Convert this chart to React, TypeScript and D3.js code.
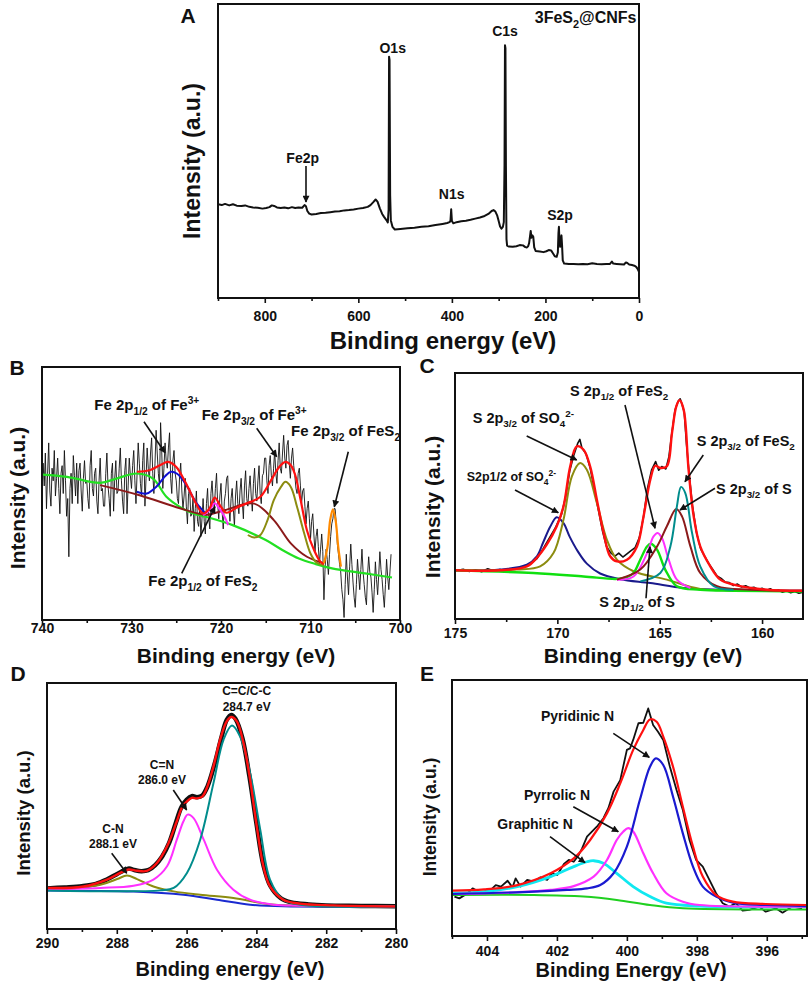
import React, { useEffect, useRef } from "react";
import * as d3 from "d3";

type Pt = [number, number];
type Seg = { t: string; sub?: boolean; sup?: boolean };

const FONT = "'Liberation Sans', Arial, Helvetica, sans-serif";

// ---------- A: survey spectrum (binding energy eV, intensity a.u.)
const surveyA: Pt[] = [
  [900, 31.9], [892, 31.6], [885, 32.0], [876, 31.5], [868, 31.9], [860, 31.4], [850, 31.3], [842, 31.5],
  [833, 31.0], [825, 30.8], [815, 30.7], [805, 30.4], [797, 30.6], [790, 30.9], [785, 31.5], [780, 31.3],
  [774, 30.8], [766, 30.6], [758, 30.8], [750, 30.5], [742, 30.9], [735, 30.6], [728, 30.8], [720, 30.7],
  [715, 31.6], [712, 31.2], [709, 29.6], [705, 28.7], [700, 28.4], [690, 28.6], [680, 28.9], [670, 29.0],
  [660, 29.2], [650, 29.4], [640, 29.5], [630, 29.8], [620, 29.9], [610, 30.1], [600, 30.4], [590, 30.6],
  [580, 31.0], [574, 31.6], [568, 32.6], [563, 33.5], [559, 32.8], [554, 30.5], [549, 28.6], [545, 27.6],
  [540, 26.5], [537, 25.7], [535.3, 30], [534.3, 82.1], [533.3, 81], [532, 35], [530.5, 26.4], [527, 24.2],
  [522, 23.3], [510, 23.5], [495, 23.7], [480, 23.9], [465, 24.2], [450, 24.4], [435, 24.8], [420, 25.2],
  [410, 25.5], [405, 25.8], [403, 26.3], [401.5, 30.2], [400, 26.2], [397, 25.4], [390, 25.8], [380, 26.1],
  [370, 26.3], [360, 26.6], [350, 27.0], [340, 27.4], [330, 27.9], [322, 28.6], [315, 29.6], [311, 29.9],
  [307, 29.4], [303, 28.0], [300, 26.2], [297, 24.3], [294, 23.6], [291, 24.2], [289, 25.8], [287.5, 45],
  [286.5, 86.0], [285.5, 85], [284.5, 45], [283.3, 20], [282, 17.8], [278, 17.5], [270, 17.4], [262, 17.6],
  [255, 18.0], [248, 17.9], [243, 17.3], [240, 17.2], [237, 17.6], [235, 18.6], [233, 21.0], [231.5, 22.8],
  [230, 20.5], [228, 21.3], [226, 20.8], [224, 17.2], [221, 16.0], [212, 15.8], [204, 15.6], [198, 15.9],
  [193, 16.3], [188, 16.2], [184, 15.2], [180, 14.2], [176, 14.0], [173.5, 15.5], [172.2, 22], [171.2, 24.2],
  [170, 19], [168.5, 17.4], [167, 19.8], [165.8, 21.3], [164.5, 18], [163, 12.8], [160, 11.7], [150, 11.6],
  [140, 11.6], [130, 11.5], [120, 11.6], [110, 11.5], [100, 11.8], [90, 11.6], [80, 11.5], [70, 11.6],
  [62, 11.6], [58, 12.4], [55, 11.7], [48, 11.6], [40, 11.5], [32, 11.4], [28, 12.1], [25, 11.9],
  [21, 11.4], [15, 11.2], [10, 11.0], [6, 10.6], [3, 9.9], [0, 8.9],
];
const surveyMajor = [800, 600, 400, 200, 0];
const surveyMinor = [900, 700, 500, 300, 100];
const surveyPeaks = ["Fe2p", "O1s", "N1s", "C1s", "S2p"];

// ---------- B: Fe 2p (raw counts every 0.125 eV from 740 eV)
const feStart = 740;
const feStep = 0.125;
const feRaw = [
  48, 62, 53, 66, 44, 58, 70, 51, 45, 60, 55, 67, 49, 56, 64, 52,
  42, 58, 61, 50, 67, 55, 41, 48, 25, 52, 58, 46, 65, 57, 49, 62,
  46, 59, 62, 51, 43, 56, 63, 54, 55, 48, 44, 61, 67, 52, 49, 58,
  60, 47, 42, 55, 64, 51, 52, 45, 45, 58, 66, 53, 48, 41, 58, 62,
  43, 56, 63, 50, 51, 60, 68, 55, 47, 42, 59, 64, 42, 53, 64, 57,
  52, 61, 67, 55, 46, 58, 70, 62, 54, 49, 63, 70, 45, 56, 68, 60,
  55, 66, 72, 58, 50, 62, 75, 66, 58, 53, 78, 67, 52, 60, 70, 63,
  60, 68, 74, 56, 50, 63, 67, 58, 55, 48, 46, 57, 62, 51, 44, 49,
  56, 45, 38, 50, 52, 41, 42, 48, 35, 44, 51, 39, 37, 45, 33, 40,
  48, 39, 34, 46, 52, 41, 36, 50, 55, 47, 44, 52, 58, 46, 40, 49,
  54, 43, 36, 47, 50, 56, 57, 45, 39, 48, 52, 44, 37, 49, 55, 46,
  42, 51, 56, 47, 40, 53, 59, 48, 45, 52, 57, 49, 43, 54, 60, 50,
  47, 55, 61, 50, 46, 57, 58, 64, 64, 55, 50, 61, 65, 57, 53, 60,
  67, 58, 54, 63, 70, 60, 58, 66, 73, 64, 60, 69, 71, 62, 56, 64,
  68, 61, 57, 52, 50, 58, 60, 53, 46, 51, 52, 45, 38, 44, 47, 40,
  32, 39, 42, 34, 27, 33, 36, 29, 22, 28, 34, 27, 8, 20, 28, 24,
  18, 26, 33, 38, 40, 44, 44, 38, 30, 26, 22, 19, 12, 8, 1, 14,
  26, 17, 10, 21, 30, 22, 15, 9, 5, 14, 24, 18, 12, 20, 28, 19,
  14, 9, 6, 18, 25, 19, 17, 11, 3, 12, 23, 16, 10, 18, 27, 20,
  16, 10, 5, 14, 24, 17, 12, 19, 26,
];
const feBackground: Pt[] = [
  [740, 57.5], [737.2, 56.6], [733.5, 54.2], [731.7, 55.9], [729.4, 57.9], [727.6, 55.9], [726.1, 48.7],
  [724.6, 44.7], [723.1, 42.1], [721.7, 40.8], [718.7, 37.5], [715.0, 31.6], [713.1, 27.6], [711.3, 24.3],
  [709.4, 22.1], [707.6, 20.4], [703.9, 18.4], [700.9, 16.8],
];
const feSatellite: Pt[] = [
  [733.5, 53.3], [729.1, 49.3], [724.6, 44.2], [721.7, 41.6], [719.6, 43.4], [716.3, 46.0], [714.1, 39.5],
  [712.2, 30.3], [710.4, 25.0], [708.5, 22.4],
];
const fe3Half: Pt[] = [
  [729.4, 50.7], [728.3, 50.0], [727.2, 52.8], [726.2, 57.0], [725.6, 58.6], [724.9, 57.8], [723.9, 53.5],
  [722.8, 46.5], [721.7, 42.0],
];
const feS2Half: Pt[] = [[722.0, 41.4], [721.3, 43.4], [720.7, 46.1], [720.2, 44.1], [719.6, 40.8], [719.2, 37.5]];
const fe3ThreeHalf: Pt[] = [
  [717.0, 33.6], [716.3, 32.6], [715.6, 33.6], [714.8, 39.5], [714.1, 47.4], [713.3, 52.6], [712.8, 54.6],
  [712.2, 52.6], [711.5, 44.7], [710.7, 34.2], [710.0, 26.3], [709.3, 22.6], [708.5, 21.7],
];
const feS2ThreeHalf: Pt[] = [[708.5, 22.4], [708.1, 28.9], [707.8, 39.5], [707.5, 43.7], [707.2, 39.5], [706.9, 28.9], [706.6, 21.1]];
const feEnvelope: Pt[] = [
  [729.4, 58.6], [728.0, 59.2], [726.5, 61.8], [725.9, 62.5], [725.0, 60.5], [723.9, 53.9], [722.8, 46.1],
  [722.0, 42.1], [721.3, 44.0], [720.7, 48.4], [720.0, 44.7], [719.4, 42.4], [718.1, 44.7], [716.7, 46.7],
  [715.6, 48.7], [714.4, 55.3], [713.5, 60.5], [712.8, 62.5], [712.2, 61.2], [711.7, 57.2], [711.1, 47.4],
  [710.4, 35.5], [709.6, 27.6], [708.9, 23.0], [708.5, 22.1],
];
const feMajor = [740, 730, 720, 710, 700];
const feMinor = [735, 725, 715, 705];

// ---------- C: S 2p
const sRaw: Pt[] = [
  [175.0, 19.6], [174.6, 20.2], [174.3, 19.3], [174.0, 20.0], [173.7, 19.2], [173.4, 20.4], [173.1, 19.5],
  [172.8, 20.1], [172.5, 19.0], [172.2, 20.3], [171.9, 20.8], [171.6, 21.2], [171.3, 22.5], [171.0, 24.5],
  [170.7, 28.5], [170.4, 32.8], [170.1, 37.0], [169.8, 42.5], [169.6, 49.5], [169.4, 60.0], [169.2, 66.5],
  [169.0, 71.5], [168.9, 73.0], [168.8, 69.5], [168.6, 67.2], [168.4, 61.5], [168.2, 53.0], [168.0, 44.5],
  [167.8, 36.0], [167.6, 29.5], [167.4, 27.0], [167.2, 25.5], [167.0, 26.8], [166.8, 25.2], [166.6, 26.5],
  [166.4, 27.8], [166.2, 29.0], [166.0, 33.0], [165.8, 41.0], [165.6, 53.0], [165.4, 60.5], [165.2, 64.0],
  [165.05, 60.5], [164.9, 62.0], [164.7, 61.0], [164.55, 66.0], [164.4, 76.0], [164.25, 85.0], [164.1, 88.5],
  [164.0, 89.5], [163.9, 87.0], [163.8, 84.0], [163.7, 72.0], [163.55, 58.0], [163.4, 46.0], [163.2, 35.0],
  [163.0, 28.5], [162.8, 25.5], [162.6, 22.5], [162.4, 20.0], [162.2, 17.5], [162.0, 16.5], [161.8, 15.0],
  [161.6, 14.8], [161.4, 13.6], [161.2, 14.2], [161.0, 13.0], [160.8, 13.5], [160.6, 12.6], [160.4, 12.9],
  [160.2, 12.0], [160.0, 12.5], [159.8, 11.6], [159.6, 12.3], [159.4, 11.3], [159.2, 11.8], [159.0, 10.9],
  [158.8, 11.5], [158.6, 10.7], [158.4, 11.2], [158.2, 10.5], [158.0, 10.9],
];
const sSO4Half: Pt[] = [
  [175, 19.8], [172.8, 20.1], [171.49, 22.1], [171.0, 25.5], [170.7, 31.0], [170.35, 37.5], [170.03, 41.4],
  [169.7, 39.0], [169.4, 33.5], [169.0, 27.5], [168.56, 22.5], [167.91, 18.5], [166.93, 16.2], [165.46, 14.6],
  [163.83, 12.6], [162.2, 11.9], [158, 11.5],
];
const sSO4ThreeHalf: Pt[] = [
  [175, 19.8], [171.98, 20.1], [170.84, 21.4], [170.19, 26.8], [169.7, 40.4], [169.29, 58.0], [168.89, 63.4],
  [168.56, 60.7], [168.07, 47.2], [167.58, 32.2], [167.09, 24.1], [166.28, 19.4], [164.65, 16.0], [163.02, 12.2],
  [160.57, 11.6], [158, 11.4],
];
const sElemHalf: Pt[] = [
  [175, 19.8], [171.17, 18.7], [168.72, 17.3], [167.09, 16.3], [166.6, 17.0], [166.28, 18.7], [165.95, 24.1],
  [165.62, 29.5], [165.43, 30.6], [165.13, 28.2], [164.73, 20.1], [164.16, 13.3], [163.02, 11.9], [161.39, 11.5],
  [158, 11.2],
];
const sFeS2Half: Pt[] = [
  [167.09, 16.0], [166.28, 17.3], [165.62, 26.8], [165.3, 33.6], [165.1, 35.0], [164.89, 32.9], [164.56, 24.1],
  [164.16, 16.0], [163.5, 12.6],
];
const sElemThreeHalf: Pt[] = [
  [167.09, 16.0], [165.95, 20.1], [165.13, 29.5], [164.65, 37.7], [164.19, 44.7], [163.91, 41.7], [163.5, 29.5],
  [163.02, 18.7], [162.2, 13.3], [160.57, 11.9], [158, 11.5],
];
const sFeS2ThreeHalf: Pt[] = [
  [165.95, 15.3], [164.97, 18.7], [164.48, 29.5], [164.16, 45.8], [163.96, 53.7], [163.75, 51.2], [163.42, 35.0],
  [163.02, 21.4], [162.36, 13.3], [161.39, 11.9],
];
const sEnvelope: Pt[] = [
  [175, 19.8], [172.8, 19.8], [171.49, 21.4], [171.01, 24.8], [170.52, 30.2], [170.03, 37.7], [169.7, 45.8],
  [169.37, 62.1], [169.05, 70.2], [168.72, 68.8], [168.4, 62.1], [168.07, 48.5], [167.74, 35.0], [167.42, 25.5],
  [167.09, 23.4], [166.6, 24.1], [166.11, 29.5], [165.79, 41.7], [165.46, 56.6], [165.22, 62.3], [164.97, 61.4],
  [164.65, 62.1], [164.4, 75.6], [164.19, 86.4], [164.03, 88.9], [163.83, 85.1], [163.59, 60.7], [163.34, 41.7],
  [163.02, 29.5], [162.53, 21.4], [162.04, 16.0], [161.39, 14.0], [159.75, 11.9], [157.96, 11.5],
];
const sMajor = [175, 170, 165, 160];
const sMinor = [172.5, 167.5, 162.5];

// ---------- D: C 1s
const cRaw: Pt[] = [
  [290, 16.5], [289.5, 16.9], [289, 17.4], [288.6, 18.3], [288.3, 20.0], [288.0, 22.3], [287.8, 23.8],
  [287.65, 24.6], [287.5, 24.0], [287.3, 23.5], [287.1, 23.9], [286.9, 26.0], [286.7, 29.5], [286.5, 35.0],
  [286.3, 43.5], [286.15, 49.5], [286.0, 52.5], [285.85, 54.0], [285.7, 53.6], [285.55, 54.3], [285.4, 58.0],
  [285.2, 67.0], [285.0, 78.0], [284.85, 85.0], [284.72, 87.0], [284.6, 85.5], [284.4, 77.5], [284.2, 62.0],
  [284.0, 43.0], [283.8, 26.0], [283.6, 17.5], [283.3, 12.5], [283.0, 10.8], [282.5, 10.0], [282.0, 9.6],
  [281, 9.4], [280, 9.2],
];
const cCC: Pt[] = [
  [290, 15.7], [286.76, 15.7], [286.37, 16.7], [285.99, 22.8], [285.61, 36.3], [285.23, 59.3], [284.94, 77.0],
  [284.7, 82.7], [284.47, 78.3], [284.18, 63.4], [283.89, 40.4], [283.61, 20.1], [283.23, 11.9], [282.75, 9.9],
  [280, 9.2],
];
const cCN2: Pt[] = [
  [290, 16.3], [288.47, 16.7], [287.52, 17.6], [286.95, 20.1], [286.56, 25.5], [286.28, 36.3], [286.09, 43.8],
  [285.97, 46.5], [285.8, 45.1], [285.51, 36.3], [285.13, 24.1], [284.66, 16.0], [284.18, 11.9], [283.51, 9.9],
  [282.75, 9.5], [280, 9.2],
];
const cCN1: Pt[] = [
  [290, 16.0], [288.47, 18.0], [287.99, 20.3], [287.71, 21.7], [287.42, 20.3], [286.95, 17.3], [286.37, 15.3],
  [285.61, 13.9], [284.66, 12.6], [283.7, 10.2], [282.75, 9.5], [280, 9.2],
];
const cBase: Pt[] = [[290, 15.7], [287.52, 15.2], [286.09, 13.9], [285.13, 11.9], [284.18, 9.9], [283.23, 9.2], [280, 9.2]];
const cEnvelope: Pt[] = [
  [290, 16.7], [288.95, 17.3], [288.28, 20.1], [287.9, 22.8], [287.66, 24.2], [287.42, 23.7], [287.14, 23.6],
  [286.85, 26.8], [286.56, 33.6], [286.28, 43.8], [286.14, 49.2], [285.99, 51.9], [285.85, 53.3], [285.71, 53.1],
  [285.56, 53.7], [285.42, 57.3], [285.23, 66.1], [285.04, 77.0], [284.85, 84.4], [284.72, 86.2], [284.56, 84.4],
  [284.37, 75.6], [284.18, 60.7], [283.99, 41.7], [283.8, 25.5], [283.61, 17.3], [283.23, 11.9], [282.75, 10.3],
  [281.79, 9.6], [280, 9.2],
];
const cMajor = [290, 288, 286, 284, 282, 280];
const cMinor = [289, 287, 285, 283, 281];

// ---------- E: N 1s
const nRaw: Pt[] = [
  [404.93, 15.4], [404.79, 14.7], [404.55, 16.7], [404.41, 18.6], [404.17, 16.9], [403.89, 18.0], [403.75, 19.9],
  [403.6, 19.3], [403.41, 21.6], [403.27, 19.0], [403.18, 22.5], [403.04, 19.3], [402.85, 21.9], [402.66, 21.2],
  [402.47, 22.9], [402.28, 21.9], [402.14, 24.5], [401.99, 23.8], [401.8, 28.1], [401.66, 29.7], [401.52, 29.0],
  [401.38, 31.6], [401.28, 34.2], [401.14, 38.8], [401.0, 40.8], [400.86, 42.7], [400.67, 46.0], [400.53, 49.9],
  [400.38, 56.4], [400.19, 60.9], [400.0, 72.7], [399.91, 73.3], [399.82, 76.6], [399.67, 83.1], [399.53, 83.3],
  [399.39, 88.9], [399.25, 82.4], [399.11, 79.8], [398.96, 76.6], [398.77, 66.1], [398.58, 57.0], [398.4, 49.2],
  [398.21, 37.5], [398.02, 29.7], [397.83, 27.1], [397.64, 21.9], [397.45, 16.7], [397.26, 12.8], [397.07, 11.5],
  [396.88, 12.8], [396.69, 9.9], [396.5, 10.2], [396.22, 11.5], [396.03, 9.5], [395.74, 10.8], [395.55, 9.1],
  [395.27, 11.5], [394.99, 10.8],
];
const nPyridinic: Pt[] = [
  [404.98, 16.4], [402.66, 17.3], [401.71, 18.0], [401.14, 18.6], [400.76, 19.9], [400.38, 24.5], [400.0, 34.9],
  [399.63, 53.1], [399.34, 66.1], [399.17, 69.4], [398.96, 66.8], [398.68, 54.4], [398.4, 40.1], [398.11, 27.1],
  [397.83, 19.3], [397.45, 15.4], [396.97, 13.0], [396.03, 12.1], [394.87, 11.7],
];
const nPyrrolic: Pt[] = [
  [404.98, 16.4], [403.13, 17.1], [402.18, 18.0], [401.52, 19.5], [400.95, 23.2], [400.57, 29.7], [400.29, 37.5],
  [400.1, 40.8], [399.96, 42.1], [399.82, 40.8], [399.53, 32.3], [399.25, 24.5], [398.87, 16.7], [398.4, 13.4],
  [397.92, 12.1], [394.87, 11.5],
];
const nGraphitic: Pt[] = [
  [404.98, 16.7], [404.08, 17.3], [403.13, 19.3], [402.18, 23.2], [401.52, 27.1], [401.14, 29.0], [400.95, 29.4],
  [400.67, 28.4], [400.29, 24.5], [399.82, 19.3], [399.34, 15.4], [398.87, 12.8], [397.92, 11.7], [394.87, 11.5],
];
const nBase: Pt[] = [[404.98, 16.0], [402.66, 16.0], [401.24, 15.4], [400.29, 14.1], [399.34, 12.1], [398.4, 10.8], [394.87, 10.4]];
const nEnvelope: Pt[] = [
  [404.98, 17.7], [404.08, 18.2], [403.13, 19.9], [402.18, 24.5], [401.52, 30.3], [401.05, 37.5], [400.57, 47.9],
  [400.19, 59.6], [399.82, 72.7], [399.53, 80.5], [399.34, 84.6], [399.15, 83.7], [398.96, 77.9], [398.68, 66.1],
  [398.4, 50.5], [398.11, 34.9], [397.83, 23.2], [397.45, 16.0], [396.97, 13.4], [396.03, 12.5], [394.87, 12.1],
];
const nMajor = [404, 402, 400, 398, 396];
const nMinor = [405, 403, 401, 399, 397, 395];

// ---------- annotation texts
const feLabels: Seg[][] = [
  [{ t: "Fe 2p" }, { t: "1/2", sub: true }, { t: " of Fe" }, { t: "3+", sup: true }],
  [{ t: "Fe 2p" }, { t: "3/2", sub: true }, { t: " of Fe" }, { t: "3+", sup: true }],
  [{ t: "Fe 2p" }, { t: "3/2", sub: true }, { t: " of FeS" }, { t: "2", sub: true }],
  [{ t: "Fe 2p" }, { t: "1/2", sub: true }, { t: " of FeS" }, { t: "2", sub: true }],
];
const sLabels: Seg[][] = [
  [{ t: "S 2p" }, { t: "1/2", sub: true }, { t: " of FeS" }, { t: "2", sub: true }],
  [{ t: "S 2p" }, { t: "3/2", sub: true }, { t: " of SO" }, { t: "4", sub: true }, { t: "2-", sup: true }],
  [{ t: "S2p1/2 of SO" }, { t: "4", sub: true }, { t: "2-", sup: true }],
  [{ t: "S 2p" }, { t: "3/2", sub: true }, { t: " of FeS" }, { t: "2", sub: true }],
  [{ t: "S 2p" }, { t: "3/2", sub: true }, { t: " of S" }],
  [{ t: "S 2p" }, { t: "1/2", sub: true }, { t: " of S" }],
];
const cLabels = [["C=C/C-C", "284.7 eV"], ["C=N", "286.0 eV"], ["C-N", "288.1 eV"]];
const nLabels = ["Pyridinic N", "Pyrrolic N", "Graphitic N"];

interface PanelCfg {
  id: string;
  left: number;
  right: number;
  top: number;
  bottom: number;
  domain: [number, number];
  major: number[];
  minor: number[];
  tickBaseline: number;
  title: string;
  titleX: number;
  titleY: number;
  titleSize: number;
  yLabelX: number;
  yLabelY: number;
  yLabelSize: number;
  letterX: number;
  letterY: number;
}

type Sel = d3.Selection<any, unknown, null, undefined>;

function richText(g: Sel, x: number, y: number, segs: Seg[], size: number, anchor = "start") {
  const text = g
    .append("text")
    .attr("x", x)
    .attr("y", y)
    .attr("font-family", FONT)
    .attr("font-weight", "bold")
    .attr("font-size", size)
    .attr("text-anchor", anchor)
    .attr("fill", "#111");
  let shift = 0;
  segs.forEach((s) => {
    const target = s.sub ? size * 0.3 : s.sup ? -size * 0.42 : 0;
    const ts = text.append("tspan").attr("dy", target - shift).text(s.t);
    if (s.sub || s.sup) ts.attr("font-size", size * 0.68);
    shift = target;
  });
}

function arrow(g: Sel, x1: number, y1: number, x2: number, y2: number) {
  g.append("line")
    .attr("x1", x1)
    .attr("y1", y1)
    .attr("x2", x2)
    .attr("y2", y2)
    .attr("stroke", "#111")
    .attr("stroke-width", 1.6)
    .attr("marker-end", "url(#arrowHead)");
}

function panel(svg: Sel, cfg: PanelCfg) {
  const x = d3.scaleLinear().domain(cfg.domain).range([cfg.left, cfg.right]);
  const y = d3.scaleLinear().domain([0, 100]).range([cfg.bottom, cfg.top]);
  const g = svg.append("g");

  svg
    .select("defs")
    .append("clipPath")
    .attr("id", "clip-" + cfg.id)
    .append("rect")
    .attr("x", cfg.left)
    .attr("y", cfg.top)
    .attr("width", cfg.right - cfg.left)
    .attr("height", cfg.bottom - cfg.top);
  const plot = g.append("g").attr("clip-path", `url(#clip-${cfg.id})`);

  const fs = 14;
  const minorAxis = g
    .append("g")
    .attr("transform", `translate(0,${cfg.bottom})`)
    .call(d3.axisBottom(x).tickValues(cfg.minor).tickSize(3).tickSizeOuter(0).tickFormat(() => ""));
  minorAxis.select(".domain").remove();
  minorAxis.selectAll("line").attr("stroke", "#111").attr("stroke-width", 1.6);

  const majorAxis = g
    .append("g")
    .attr("transform", `translate(0,${cfg.bottom})`)
    .call(
      d3
        .axisBottom(x)
        .tickValues(cfg.major)
        .tickSize(5)
        .tickSizeOuter(0)
        .tickPadding(cfg.tickBaseline - cfg.bottom - 5 - 0.71 * fs)
        .tickFormat(d3.format("d"))
    );
  majorAxis.select(".domain").remove();
  majorAxis.selectAll("line").attr("stroke", "#111").attr("stroke-width", 1.6);
  majorAxis
    .selectAll("text")
    .attr("font-family", FONT)
    .attr("font-weight", "bold")
    .attr("font-size", fs)
    .attr("fill", "#111");

  g.append("rect")
    .attr("x", cfg.left)
    .attr("y", cfg.top)
    .attr("width", cfg.right - cfg.left)
    .attr("height", cfg.bottom - cfg.top)
    .attr("fill", "none")
    .attr("stroke", "#111")
    .attr("stroke-width", 2);

  g.append("text")
    .attr("x", cfg.titleX)
    .attr("y", cfg.titleY)
    .attr("text-anchor", "middle")
    .attr("font-family", FONT)
    .attr("font-weight", "bold")
    .attr("font-size", cfg.titleSize)
    .attr("fill", "#111")
    .text(cfg.title);

  g.append("text")
    .attr("transform", `translate(${cfg.yLabelX},${cfg.yLabelY}) rotate(-90)`)
    .attr("text-anchor", "middle")
    .attr("dominant-baseline", "central")
    .attr("font-family", FONT)
    .attr("font-weight", "bold")
    .attr("font-size", cfg.yLabelSize)
    .attr("fill", "#111")
    .text("Intensity (a.u.)");

  g.append("text")
    .attr("x", cfg.letterX)
    .attr("y", cfg.letterY)
    .attr("text-anchor", "middle")
    .attr("font-family", FONT)
    .attr("font-weight", "bold")
    .attr("font-size", 21)
    .attr("fill", "#111")
    .text(cfg.id);

  const draw = (data: Pt[], color: string, width: number, smooth = true) => {
    const line = d3
      .line<Pt>()
      .x((d) => x(d[0]))
      .y((d) => y(d[1]))
      .curve(smooth ? d3.curveCatmullRom.alpha(0.5) : d3.curveLinear);
    plot
      .append("path")
      .datum(data)
      .attr("d", line)
      .attr("fill", "none")
      .attr("stroke", color)
      .attr("stroke-width", width)
      .attr("stroke-linejoin", "round");
  };

  return { x, y, g, draw };
}

const App: React.FC = () => {
  const svgRef = useRef<SVGSVGElement | null>(null);

  useEffect(() => {
    const svg = d3.select(svgRef.current) as unknown as Sel;
    svg.selectAll("*").remove();

    const defs = svg.append("defs");
    defs
      .append("marker")
      .attr("id", "arrowHead")
      .attr("viewBox", "0 0 10 10")
      .attr("refX", 9)
      .attr("refY", 5)
      .attr("markerWidth", 9)
      .attr("markerHeight", 7)
      .attr("markerUnits", "userSpaceOnUse")
      .attr("orient", "auto")
      .append("path")
      .attr("d", "M0,0 L10,5 L0,10 z")
      .attr("fill", "#111");

    // ---- Panel A
    const a = panel(svg, {
      id: "A", left: 218, right: 639, top: 4, bottom: 298, domain: [900, 0],
      major: surveyMajor, minor: surveyMinor, tickBaseline: 320.5,
      title: "Binding energy (eV)", titleX: 443, titleY: 349, titleSize: 24,
      yLabelX: 192, yLabelY: 161, yLabelSize: 23, letterX: 188, letterY: 23,
    });
    a.draw(surveyA, "#111", 2, false);
    richText(a.g, 636.5, 23, [{ t: "3FeS" }, { t: "2", sub: true }, { t: "@CNFs" }], 16, "end");
    const aPos: [number, number][] = [[302.7, 163], [392.7, 52.5], [451.7, 199], [505, 36], [560, 220]];
    surveyPeaks.forEach((p, i) => richText(a.g, aPos[i][0], aPos[i][1], [{ t: p }], 14, "middle"));
    arrow(a.g, 306, 166, 306, 202);

    // ---- Panel B
    const b = panel(svg, {
      id: "B", left: 42, right: 400, top: 367, bottom: 620, domain: [740, 700],
      major: feMajor, minor: feMinor, tickBaseline: 633,
      title: "Binding energy (eV)", titleX: 236, titleY: 663, titleSize: 21,
      yLabelX: 17.5, yLabelY: 498, yLabelSize: 21, letterX: 17, letterY: 375,
    });
    const fePts: Pt[] = feRaw.map((v, i) => [feStart - i * feStep, v]);
    b.draw(fePts, "#111", 0.9, false);
    b.draw(feBackground, "#22e022", 2.2);
    b.draw(feSatellite, "#8b1a1a", 2);
    b.draw(fe3Half, "#1010d0", 2);
    b.draw(feS2Half, "#ff30ff", 2);
    b.draw(fe3ThreeHalf, "#8c8c10", 2);
    b.draw(feEnvelope, "#ff1010", 2.2);
    b.draw(feS2ThreeHalf, "#ff8a00", 2.2);
    richText(b.g, 94.3, 410, feLabels[0], 15);
    richText(b.g, 201.7, 420, feLabels[1], 15);
    richText(b.g, 291, 436, feLabels[2], 15);
    richText(b.g, 148.3, 586, feLabels[3], 15);
    arrow(b.g, 144, 421.7, 165, 452.7);
    arrow(b.g, 256.7, 428.3, 276.7, 456.7);
    arrow(b.g, 348.3, 451.7, 334.3, 506.7);
    arrow(b.g, 181.7, 573.3, 215, 506.7);

    // ---- Panel C
    const c = panel(svg, {
      id: "C", left: 455, right: 803, top: 373, bottom: 619, domain: [175, 158],
      major: sMajor, minor: sMinor, tickBaseline: 638,
      title: "Binding energy (eV)", titleX: 643, titleY: 663, titleSize: 21,
      yLabelX: 432, yLabelY: 507, yLabelSize: 21, letterX: 427, letterY: 373,
    });
    c.draw(sRaw, "#111", 1.6, false);
    c.draw(sSO4Half, "#1a1a8c", 2);
    c.draw(sSO4ThreeHalf, "#8c8c10", 2);
    c.draw(sElemHalf, "#10e010", 2.4);
    c.draw(sFeS2Half, "#ff30ff", 2);
    c.draw(sElemThreeHalf, "#8b1a1a", 2);
    c.draw(sFeS2ThreeHalf, "#008c8c", 2);
    c.draw(sEnvelope, "#ff1010", 2.4);
    richText(c.g, 570, 396, sLabels[0], 14.5);
    richText(c.g, 472.7, 423, sLabels[1], 14.5);
    richText(c.g, 466.7, 481, sLabels[2], 12.5);
    richText(c.g, 696.7, 446, sLabels[3], 14.5);
    richText(c.g, 716, 494, sLabels[4], 14.5);
    richText(c.g, 599.3, 607, sLabels[5], 14.5);
    arrow(c.g, 526.7, 436, 576.7, 460);
    arrow(c.g, 515, 490, 558.3, 512.7);
    arrow(c.g, 625, 405, 655, 528.3);
    arrow(c.g, 703.3, 455, 685, 481.7);
    arrow(c.g, 715, 488.3, 680, 510);
    arrow(c.g, 646, 598.3, 650, 546.7);

    // ---- Panel D
    const d = panel(svg, {
      id: "D", left: 47, right: 396, top: 683, bottom: 929, domain: [290, 280],
      major: cMajor, minor: cMinor, tickBaseline: 948,
      title: "Binding energy (eV)", titleX: 230, titleY: 976, titleSize: 20,
      yLabelX: 23, yLabelY: 813, yLabelSize: 18.5, letterX: 18, letterY: 680.5,
    });
    d.draw(cRaw, "#111", 4.5);
    d.draw(cBase, "#1a2ad0", 2);
    d.draw(cCN1, "#8c8c10", 2);
    d.draw(cCN2, "#ff30ff", 2);
    d.draw(cCC, "#008c8c", 2);
    d.draw(cEnvelope, "#ff1010", 2.4);
    const dPos: [number, number, number][] = [[246.7, 695, 710.5], [162, 769, 784], [113, 832.5, 848]];
    cLabels.forEach((l, i) => {
      richText(d.g, dPos[i][0], dPos[i][1], [{ t: l[0] }], 12, "middle");
      richText(d.g, dPos[i][0], dPos[i][2], [{ t: l[1] }], 12, "middle");
    });
    arrow(d.g, 173.3, 790, 186.7, 810);
    arrow(d.g, 111.7, 853.3, 126.7, 873.3);

    // ---- Panel E
    const e = panel(svg, {
      id: "E", left: 452, right: 807, top: 680, bottom: 936, domain: [405, 394.85],
      major: nMajor, minor: nMinor, tickBaseline: 956,
      title: "Binding Energy (eV)", titleX: 631, titleY: 977, titleSize: 20,
      yLabelX: 430, yLabelY: 817, yLabelSize: 17.5, letterX: 427, letterY: 680.5,
    });
    e.draw(nRaw, "#111", 1.8, false);
    e.draw(nBase, "#20d020", 2);
    e.draw(nGraphitic, "#10e8f0", 2.8);
    e.draw(nPyrrolic, "#ff30ff", 2.2);
    e.draw(nPyridinic, "#1a1ad0", 2.2);
    e.draw(nEnvelope, "#ff1010", 2.2);
    const ePos: [number, number][] = [[541, 721], [524, 800], [497.3, 829]];
    nLabels.forEach((l, i) => richText(e.g, ePos[i][0], ePos[i][1], [{ t: l }], 14));
    arrow(e.g, 613.3, 733.3, 649.3, 757.3);
    arrow(e.g, 573.3, 806.7, 618.3, 831.7);
    arrow(e.g, 550, 836.7, 585, 862.7);
  }, []);

  return (
    <svg
      ref={svgRef}
      width={809}
      height={983}
      style={{ position: "absolute", left: 0, top: 0, background: "#fff" }}
    />
  );
};

export default App;
